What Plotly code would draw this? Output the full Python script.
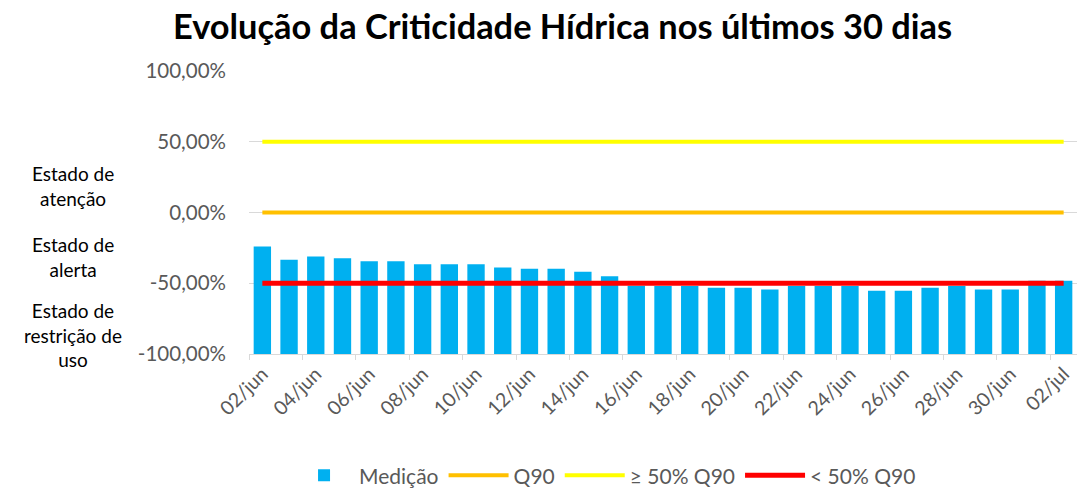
import plotly.graph_objects as go

dates = ["02/jun", "03/jun", "04/jun", "05/jun", "06/jun", "07/jun", "08/jun", "09/jun",
         "10/jun", "11/jun", "12/jun", "13/jun", "14/jun", "15/jun", "16/jun", "17/jun",
         "18/jun", "19/jun", "20/jun", "21/jun", "22/jun", "23/jun", "24/jun", "25/jun",
         "26/jun", "27/jun", "28/jun", "29/jun", "30/jun", "01/jul", "02/jul"]
medicao = [-24.0, -33.4, -31.1, -32.3, -34.4, -34.4, -36.5, -36.5, -36.5, -38.9, -39.8,
           -39.8, -41.9, -45.0, -51.8, -52.0, -52.0, -53.2, -53.2, -54.4, -52.0, -52.0,
           -52.0, -55.3, -55.3, -53.2, -52.0, -54.4, -54.4, -48.3, -48.3]
q90 = [0.0, 0.0, 0.0, 0.0, 0.0, 0.0, 0.0, 0.0, 0.0, 0.0, 0.0, 0.0, 0.0, 0.0, 0.0, 0.0,
       0.0, 0.0, 0.0, 0.0, 0.0, 0.0, 0.0, 0.0, 0.0, 0.0, 0.0, 0.0, 0.0, 0.0, 0.0]
q90_50_up = [50.0, 50.0, 50.0, 50.0, 50.0, 50.0, 50.0, 50.0, 50.0, 50.0, 50.0, 50.0, 50.0,
             50.0, 50.0, 50.0, 50.0, 50.0, 50.0, 50.0, 50.0, 50.0, 50.0, 50.0, 50.0, 50.0,
             50.0, 50.0, 50.0, 50.0, 50.0]
q90_50_down = [-50.0, -50.0, -50.0, -50.0, -50.0, -50.0, -50.0, -50.0, -50.0, -50.0, -50.0,
               -50.0, -50.0, -50.0, -50.0, -50.0, -50.0, -50.0, -50.0, -50.0, -50.0, -50.0,
               -50.0, -50.0, -50.0, -50.0, -50.0, -50.0, -50.0, -50.0, -50.0]
y_min, y_max = -100, 100
y_ticks = [-100, -50, 0, 50, 100]
y_tick_labels = ["-100,00%", "-50,00%", "0,00%", "50,00%", "100,00%"]
zones = ["Estado de<br>atenção", "Estado de<br>alerta", "Estado de<br>restrição de<br>uso"]
zone_y = [19.0, -31.1, -86.9]

idx = list(range(len(dates)))
FONT = "Lato"

fig = go.Figure()
# Excel draws the bars from the bottom of the axis (-100%)
fig.add_trace(go.Bar(x=idx, y=[v - y_min for v in medicao], base=y_min, name="Medição",
                     marker_color="#00B0F0", marker_line_width=0,
                     customdata=medicao, hovertemplate="%{customdata}%<extra></extra>"))
fig.add_trace(go.Scatter(x=idx, y=q90, name="Q90", mode="lines",
                         line=dict(color="#FFC000", width=4)))
fig.add_trace(go.Scatter(x=idx, y=q90_50_up, name="≥ 50% Q90", mode="lines",
                         line=dict(color="#FFFF00", width=4)))
fig.add_trace(go.Scatter(x=idx, y=q90_50_down, name="< 50% Q90", mode="lines",
                         line=dict(color="#FF0000", width=5)))

for txt, yv in zip(zones, zone_y):
    fig.add_annotation(text=txt, xref="paper", yref="y", x=-0.2125, y=yv,
                       showarrow=False, xanchor="center", yanchor="middle",
                       font=dict(family=FONT, size=19, color="#000000"))

fig.update_layout(
    width=1086, height=488,
    margin=dict(l=249, r=9, t=71, b=134, autoexpand=False),
    paper_bgcolor="white", plot_bgcolor="white",
    bargap=0.35,
    title=dict(text="<b>Evolução da Criticidade Hídrica nos últimos 30 dias</b>",
               x=0.518, xanchor="center", y=0.945, yanchor="middle",
               font=dict(family=FONT, size=34.4, color="#000000")),
    font=dict(family=FONT, color="#595959", size=18),
    showlegend=True,
    legend=dict(orientation="h", x=0.43, xanchor="center", y=-0.43, yanchor="middle",
                font=dict(family=FONT, size=21, color="#595959"), itemwidth=60),
)
fig.update_xaxes(range=[-0.5, len(dates) - 0.5], tickmode="array",
                 tickvals=idx[::2], ticktext=dates[::2], tickangle=-45, ticks="",
                 showgrid=False, zeroline=False, showline=True, linecolor="#D9D9D9",
                 linewidth=1, automargin=False,
                 minor=dict(ticks="outside", tick0=-0.5, dtick=2, ticklen=5,
                            tickcolor="#D9D9D9", showgrid=False),
                 tickfont=dict(family=FONT, size=19.5, color="#595959"))
fig.update_yaxes(range=[y_min, y_max], tickmode="array", tickvals=y_ticks,
                 ticktext=y_tick_labels, showgrid=True, gridcolor="#D9D9D9", gridwidth=1,
                 zeroline=False, ticks="", ticklen=0, ticklabelstandoff=22,
                 automargin=False,
                 tickfont=dict(family=FONT, size=20.5, color="#595959"))

fig.write_html("out.html", config={"displayModeBar": False},
               post_script="document.body.style.margin='0';document.body.style.overflow='hidden';")
